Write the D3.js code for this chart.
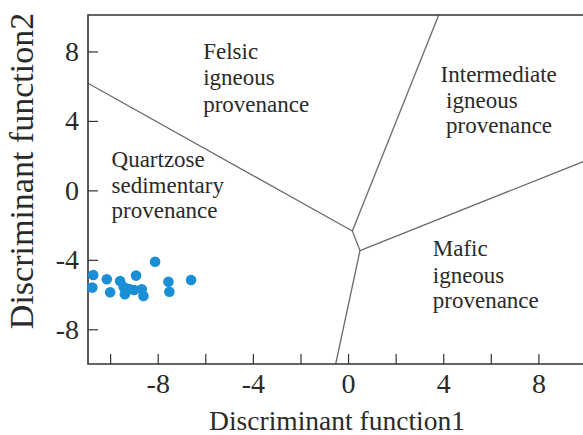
<!DOCTYPE html>
<html>
<head>
<meta charset="utf-8">
<script src="https://cdn.jsdelivr.net/npm/d3@7"></script>
<style>
  html, body { margin: 0; padding: 0; background: #fff; }
  svg { display: block; }
</style>
</head>
<body>
<svg id="chart" width="583" height="435"></svg>
<script>
// ---- data ----
const sampleX = [-10.71, -10.75, -10.14, -10.00, -9.58, -9.43, -9.20, -9.38, -8.91, -8.99, -8.67, -8.60, -8.11, -7.55, -7.51, -6.60];
const sampleY = [-4.87, -5.60, -5.12, -5.87, -5.22, -5.57, -5.68, -5.98, -4.91, -5.74, -5.70, -6.08, -4.11, -5.26, -5.84, -5.16];

const xTickLabels = [-8, -4, 0, 4, 8];
const xMinorTicks = [-10, -6, -2, 2, 6];
const yTickLabels = [-8, -4, 0, 4, 8];

// field boundaries (discriminant function space)
const boundaryFrom = [[-10.93, 6.17], [0.18, -2.34], [0.18, -2.34], [0.50, -3.47], [0.50, -3.47]];
const boundaryTo   = [[0.18, -2.34], [3.81, 10.1], [0.50, -3.47], [10.0, 1.72], [-0.52, -10.0]];

// field names
const fieldLines = [
  ["Felsic", "igneous", "provenance"],
  ["Quartzose", "sedimentary", "provenance"],
  ["Intermediate", "igneous", "provenance"],
  ["Mafic", "igneous", "provenance"]
];
const fieldAnchorX = [[-6.09, -6.09, -6.09], [-9.94, -9.94, -9.94], [3.89, 4.12, 4.12], [3.56, 3.56, 3.56]];
const fieldAnchorY = [[7.57, 6.04, 4.52], [1.37, -0.13, -1.61], [6.23, 4.73, 3.29], [-3.78, -5.32, -6.79]];

const xTitle = "Discriminant function1";
const yTitle = "Discriminant function2";

// ---- layout ----
const FONT = "'Liberation Serif', Tinos, 'Times New Roman', 'Nimbus Roman', 'DejaVu Serif', serif";
const svg = d3.select("#chart");
const plotL = 88, plotR = 586, plotT = 15, plotB = 364;
const x = d3.scaleLinear().domain([-10.93, 10]).range([plotL, plotR]);
const y = d3.scaleLinear().domain([-10, 10.1]).range([plotB, plotT]);

const axisColor = "#333";
const textColor = "#2a2a2a";

// boundaries
const g = svg.append("g");
boundaryFrom.forEach((p, i) => {
  const q = boundaryTo[i];
  g.append("line")
    .attr("x1", x(p[0])).attr("y1", y(p[1]))
    .attr("x2", x(q[0])).attr("y2", y(q[1]))
    .attr("stroke", "#6a6a6a").attr("stroke-width", 1.3);
});

// x axis (ticks inward)
const xAxis = svg.append("g").attr("transform", `translate(0,${plotB})`)
  .call(d3.axisBottom(x).tickValues(xTickLabels).tickSize(-10).tickPadding(9).tickFormat(d => String(d)));
svg.append("g").attr("transform", `translate(0,${plotB})`)
  .call(d3.axisBottom(x).tickValues(xMinorTicks).tickSize(-10).tickFormat(""))
  .call(s => s.select(".domain").remove());
xAxis.select(".domain").remove();

const yAxis = svg.append("g").attr("transform", `translate(${plotL},0)`)
  .call(d3.axisLeft(y).tickValues(yTickLabels).tickSize(-10).tickPadding(9).tickFormat(d => String(d)));
yAxis.select(".domain").remove();

svg.selectAll("g").attr("font-family", FONT);
svg.selectAll(".tick line").attr("stroke", axisColor).attr("stroke-width", 1.2);
svg.selectAll(".tick text").attr("font-family", FONT)
  .attr("font-size", 28).attr("fill", textColor);

// frame: left, bottom, top
svg.append("path")
  .attr("d", `M${plotR},${plotT}H${plotL}V${plotB}H${plotR}`)
  .attr("fill", "none").attr("stroke", axisColor).attr("stroke-width", 1.6);

// field labels
fieldLines.forEach((lines, i) => {
  lines.forEach((t, j) => {
    svg.append("text")
      .attr("x", x(fieldAnchorX[i][j]))
      .attr("y", y(fieldAnchorY[i][j]))
      .attr("font-family", FONT)
      .attr("font-size", 23)
      .attr("fill", textColor)
      .text(t);
  });
});

// sample points
svg.append("g").selectAll("circle")
  .data(sampleX.map((v, i) => [v, sampleY[i]]))
  .join("circle")
  .attr("cx", d => x(d[0])).attr("cy", d => y(d[1]))
  .attr("r", 5.3)
  .attr("fill", "#1b8fd5");

// axis titles
svg.append("text")
  .attr("x", (plotL + plotR) / 2).attr("y", 430)
  .attr("text-anchor", "middle").attr("font-size", 27.5)
  .attr("font-family", FONT).attr("fill", textColor)
  .text(xTitle);

svg.append("text")
  .attr("transform", "translate(33,171) rotate(-90)")
  .attr("text-anchor", "middle").attr("font-size", 34)
  .attr("font-family", FONT).attr("fill", textColor)
  .text(yTitle);
</script>
</body>
</html>
